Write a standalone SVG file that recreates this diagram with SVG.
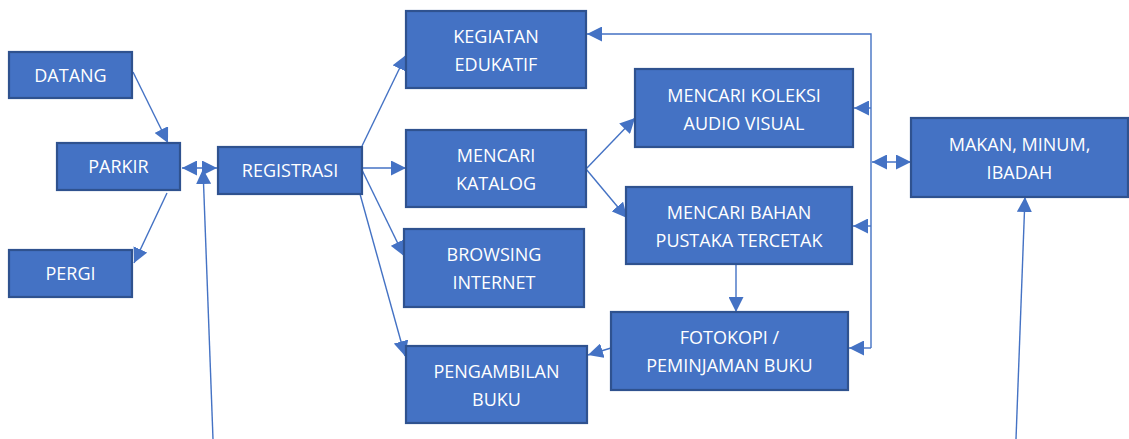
<svg xmlns="http://www.w3.org/2000/svg" width="1129" height="439" viewBox="0 0 1129 439">
<style>
.box{fill:#4472C4;stroke:#2F528F;stroke-width:2.2}
.t{fill:#FFFFFF;font-family:"Open Sans","Liberation Sans",sans-serif;font-size:18px;text-anchor:middle}
.c{fill:none;stroke:#4472C4;stroke-width:1.4}
</style>
<defs>
<marker id="ah" markerUnits="userSpaceOnUse" markerWidth="15" markerHeight="15" refX="15" refY="7.5" orient="auto-start-reverse" viewBox="0 0 15 15">
<path d="M0,0 L15,7.5 L0,15 z" fill="#4472C4"/>
</marker>
</defs>
<rect width="1129" height="439" fill="#FFFFFF"/>
<g id="connectors">
<line class="c" x1="133" y1="72" x2="168" y2="143" marker-end="url(#ah)"/>
<line class="c" x1="167" y1="193" x2="134" y2="263" marker-end="url(#ah)"/>
<line class="c" x1="182" y1="168" x2="217" y2="168" marker-start="url(#ah)" marker-end="url(#ah)"/>
<line class="c" x1="213" y1="439" x2="203" y2="169" marker-end="url(#ah)"/>
<line class="c" x1="362" y1="146" x2="406" y2="55" marker-end="url(#ah)"/>
<line class="c" x1="362" y1="168" x2="406" y2="168" marker-end="url(#ah)"/>
<line class="c" x1="362" y1="170" x2="404" y2="256" marker-end="url(#ah)"/>
<line class="c" x1="360" y1="194" x2="405" y2="356" marker-end="url(#ah)"/>
<line class="c" x1="586" y1="169" x2="635" y2="118" marker-end="url(#ah)"/>
<line class="c" x1="586" y1="169" x2="627" y2="218" marker-end="url(#ah)"/>
<line class="c" x1="736" y1="264" x2="736" y2="312" marker-end="url(#ah)"/>
<line class="c" x1="611" y1="348" x2="588" y2="355" marker-end="url(#ah)"/>
<polyline class="c" points="871,348 871,34 587,34" marker-end="url(#ah)"/>
<line class="c" x1="871" y1="108" x2="854" y2="108" marker-end="url(#ah)"/>
<line class="c" x1="871" y1="226" x2="853" y2="226" marker-end="url(#ah)"/>
<line class="c" x1="871" y1="348" x2="849" y2="348" marker-end="url(#ah)"/>
<line class="c" x1="872" y1="162" x2="911" y2="162" marker-start="url(#ah)" marker-end="url(#ah)"/>
<line class="c" x1="1016" y1="439" x2="1025" y2="197" marker-end="url(#ah)"/>
</g>
<g id="datang"><rect class="box" x="9" y="52" width="123" height="46"/><text class="t" x="70.5" y="82">DATANG</text></g>
<g id="parkir"><rect class="box" x="57" y="143" width="123" height="47"/><text class="t" x="118.5" y="173">PARKIR</text></g>
<g id="pergi"><rect class="box" x="9" y="250" width="123" height="47"/><text class="t" x="70.5" y="280">PERGI</text></g>
<g id="registrasi"><rect class="box" x="218" y="147" width="144" height="47"/><text class="t" x="290" y="177">REGISTRASI</text></g>
<g id="kegiatan"><rect class="box" x="406" y="11" width="180" height="77"/><text class="t" x="496" y="43">KEGIATAN</text><text class="t" x="496" y="71">EDUKATIF</text></g>
<g id="katalog"><rect class="box" x="406" y="130" width="180" height="77"/><text class="t" x="496" y="162">MENCARI</text><text class="t" x="496" y="190">KATALOG</text></g>
<g id="browsing"><rect class="box" x="404" y="229" width="180" height="78"/><text class="t" x="494" y="261">BROWSING</text><text class="t" x="494" y="289">INTERNET</text></g>
<g id="pengambilan"><rect class="box" x="406" y="346" width="181" height="77"/><text class="t" x="496.5" y="378">PENGAMBILAN</text><text class="t" x="496.5" y="406">BUKU</text></g>
<g id="koleksi"><rect class="box" x="635" y="69" width="218" height="78"/><text class="t" x="744" y="102">MENCARI KOLEKSI</text><text class="t" x="744" y="130">AUDIO VISUAL</text></g>
<g id="bahan"><rect class="box" x="626" y="187" width="226" height="77"/><text class="t" x="739" y="219">MENCARI BAHAN</text><text class="t" x="739" y="247">PUSTAKA TERCETAK</text></g>
<g id="fotokopi"><rect class="box" x="611" y="312" width="237" height="78"/><text class="t" x="729.5" y="344">FOTOKOPI /</text><text class="t" x="729.5" y="372">PEMINJAMAN BUKU</text></g>
<g id="makan"><rect class="box" x="911" y="118" width="217" height="79"/><text class="t" x="1019.5" y="151">MAKAN, MINUM,</text><text class="t" x="1019.5" y="179">IBADAH</text></g>
</svg>
